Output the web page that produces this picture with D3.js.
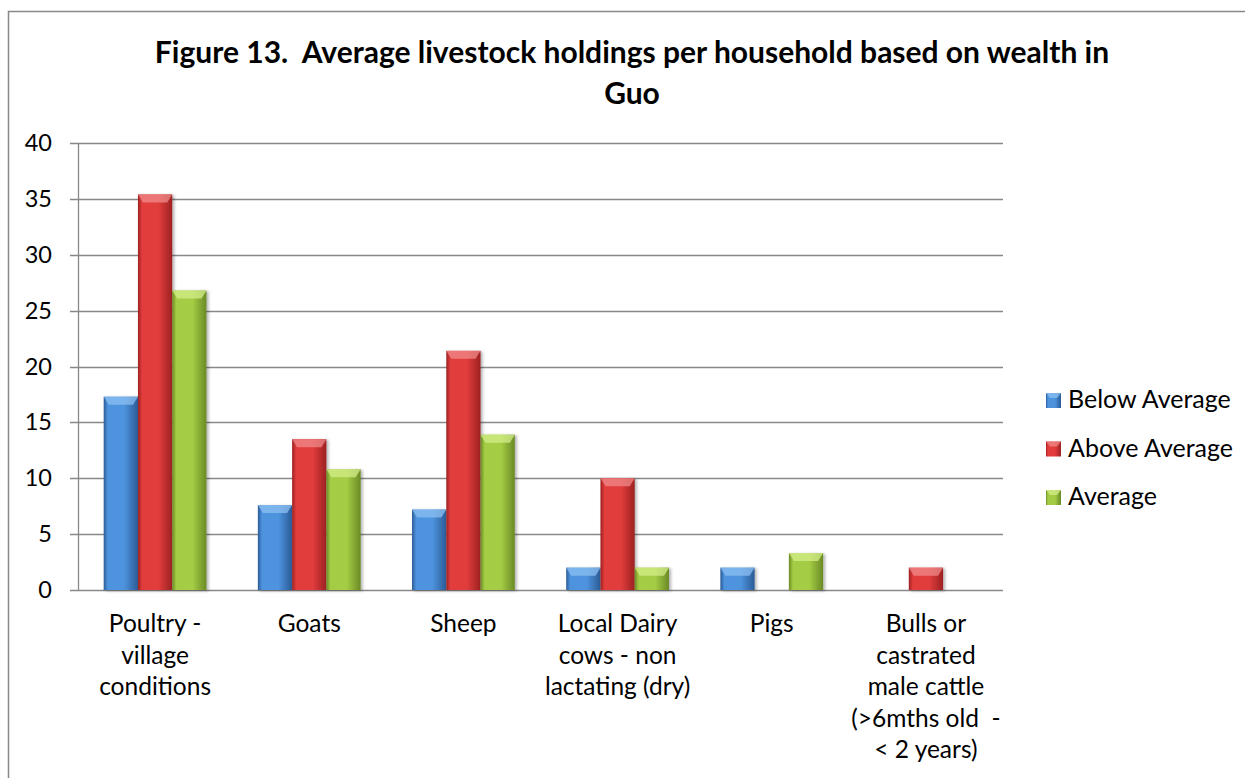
<!DOCTYPE html>
<html>
<head>
<meta charset="utf-8">
<script src="https://cdn.jsdelivr.net/npm/d3@7"></script>
<style>
  html, body { margin: 0; padding: 0; background: #fff; }
  svg { display: block; }
  text { font-family: Lato, "Open Sans", sans-serif; fill: #000; white-space: pre; }
</style>
</head>
<body>
<svg id="chart" width="1245" height="778"></svg>
<script>
const categories = [
  ["Poultry -", "village", "conditions"],
  ["Goats"],
  ["Sheep"],
  ["Local Dairy", "cows - non", "lactating (dry)"],
  ["Pigs"],
  ["Bulls or", "castrated", "male cattle", "(>6mths old  -", "< 2 years)"]
];
const seriesNames = ["Below Average", "Above Average", "Average"];
const belowAverage = [17.3, 7.6, 7.2, 2, 2, 0];
const aboveAverage = [35.4, 13.5, 21.4, 10, 0, 2];
const average = [26.8, 10.8, 13.9, 2, 3.3, 0];
const yTicks = [0, 5, 10, 15, 20, 25, 30, 35, 40];
const titleLines = ["Figure 13.  Average livestock holdings per household based on wealth in", "Guo"];

const series = [belowAverage, aboveAverage, average];
const colors = [
  {edge: "#2b5b96", mid: "#4d93de", top: "#8cc0f2"},
  {edge: "#9c2222", mid: "#e23c3c", top: "#f08a8a"},
  {edge: "#6a8a26", mid: "#a4cc44", top: "#d4ee8a"}
];

const svg = d3.select("#chart");
const defs = svg.append("defs");
colors.forEach((c, i) => {
  const g = defs.append("linearGradient").attr("id", "g" + i)
    .attr("x1", "0%").attr("x2", "100%").attr("y1", "0%").attr("y2", "0%");
  g.append("stop").attr("offset", "0%").attr("stop-color", c.edge);
  g.append("stop").attr("offset", "12%").attr("stop-color", c.mid);
  g.append("stop").attr("offset", "60%").attr("stop-color", c.mid);
  g.append("stop").attr("offset", "100%").attr("stop-color", c.edge);
});
const f = defs.append("filter").attr("id", "shadow").attr("x", "-20%").attr("y", "-5%").attr("width", "150%").attr("height", "120%");
f.append("feDropShadow").attr("dx", 2).attr("dy", 1).attr("stdDeviation", 1.5).attr("flood-color", "#000").attr("flood-opacity", 0.3);

// outer border
svg.append("path").attr("d", "M8.5,778 L8.5,11.5 L1245,11.5")
  .attr("fill", "none").attr("stroke", "#888").attr("stroke-width", 1.5);

// title
svg.append("text").attr("x", 632).attr("y", 63).attr("text-anchor", "middle")
  .style("font-weight", "bold").style("font-size", "30px").text(titleLines[0]);
svg.append("text").attr("x", 632).attr("y", 104).attr("text-anchor", "middle")
  .style("font-weight", "bold").style("font-size", "30px").text(titleLines[1]);

const plotL = 78, plotR = 1003, plotT = 143, plotB = 590;
const x = d3.scaleBand().domain(d3.range(categories.length)).range([plotL, plotR]);
const bw = x.bandwidth() / 4.5;
const xs = d3.scaleBand().domain(d3.range(3)).range([0.75 * bw, 3.75 * bw]);
const y = d3.scaleLinear().domain([0, 40]).range([plotB, plotT]);

// gridlines
svg.append("g").selectAll("line").data(yTicks).join("line")
  .attr("x1", plotL - 8).attr("x2", plotR)
  .attr("y1", d => Math.round(y(d)) + 0.5).attr("y2", d => Math.round(y(d)) + 0.5)
  .attr("stroke", "#888").attr("stroke-width", 1.3);
// y axis line
svg.append("line").attr("x1", plotL + 0.5).attr("x2", plotL + 0.5)
  .attr("y1", plotT).attr("y2", plotB).attr("stroke", "#888").attr("stroke-width", 1.3);

// y labels
svg.append("g").selectAll("text").data(yTicks).join("text")
  .attr("x", 52).attr("y", d => y(d) + 8).attr("text-anchor", "end")
  .style("font-size", "23.5px").text(d => d);

// bars
series.forEach((vals, si) => {
  const g = svg.append("g").attr("filter", "url(#shadow)");
  const data = vals.map((v, ci) => ({v, ci})).filter(d => d.v > 0);
  g.selectAll("rect").data(data).join("rect")
    .attr("x", d => x(d.ci) + xs(si))
    .attr("width", xs.bandwidth())
    .attr("y", d => y(d.v))
    .attr("height", d => y(0) - y(d.v))
    .attr("fill", "url(#g" + si + ")");
  g.selectAll("path").data(data).join("path")
    .attr("d", d => {
      const x0 = x(d.ci) + xs(si), x1 = x0 + xs.bandwidth(), y0 = y(d.v), h = Math.min(8, y(0) - y(d.v));
      return `M${x0},${y0} L${x1},${y0} L${x1 - 5},${y0 + h} L${x0 + 5},${y0 + h} Z`;
    })
    .attr("fill", colors[si].top).attr("opacity", 0.75);
});

// x labels
categories.forEach((lines, ci) => {
  const t = svg.append("text").attr("text-anchor", "middle").style("font-size", "24.5px");
  lines.forEach((ln, li) => {
    t.append("tspan").attr("x", x(ci) + x.bandwidth() / 2).attr("y", 632 + li * 31.5).text(ln);
  });
});

// legend
const lg = svg.append("g");
seriesNames.forEach((n, i) => {
  const yy = 393 + i * 48.5;
  lg.append("rect").attr("x", 1046).attr("y", yy).attr("width", 15).attr("height", 15)
    .attr("fill", "url(#g" + i + ")");
  lg.append("path").attr("d", `M1046,${yy} L1061,${yy} L1057,${yy + 5} L1050,${yy + 5} Z`)
    .attr("fill", colors[i].top).attr("opacity", 0.75);
  lg.append("text").attr("x", 1068).attr("y", yy + 15).style("font-size", "25px").text(n);
});
</script>
</body>
</html>
